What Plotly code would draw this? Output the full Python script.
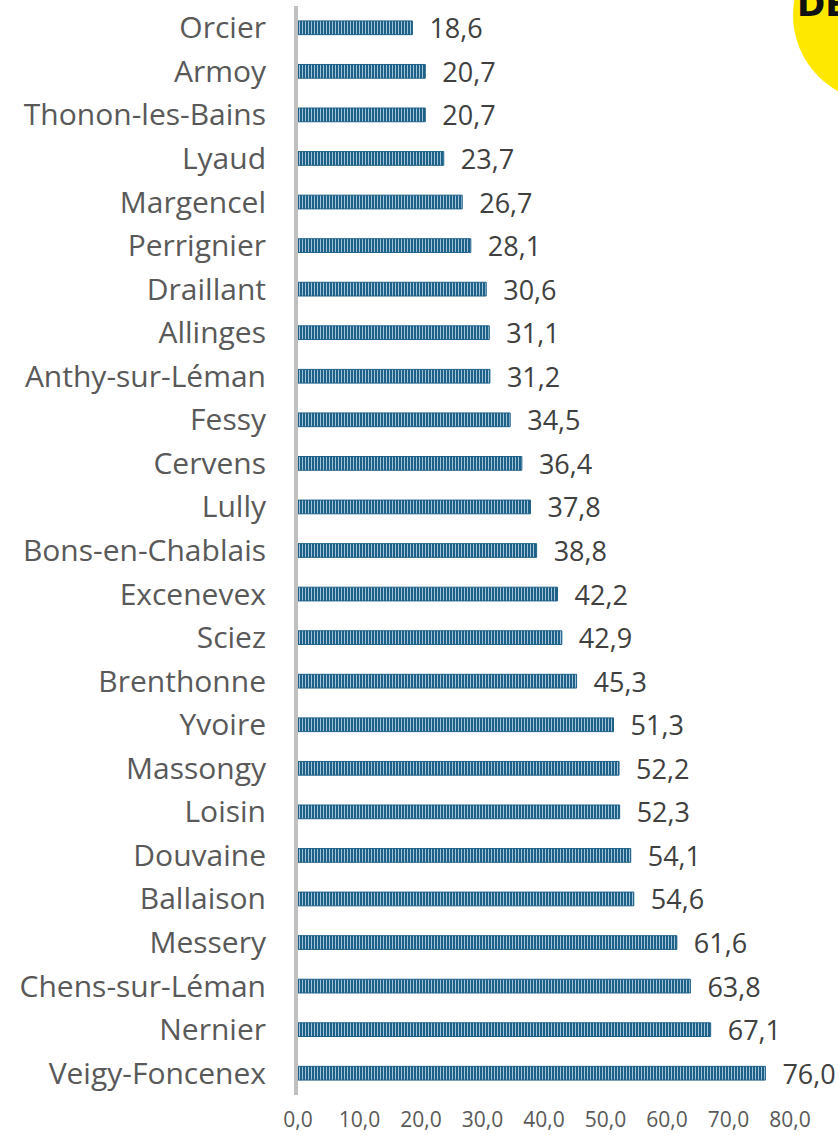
import plotly.graph_objects as go

communes = ["Orcier", "Armoy", "Thonon-les-Bains", "Lyaud", "Margencel", "Perrignier",
            "Draillant", "Allinges", "Anthy-sur-Léman", "Fessy", "Cervens", "Lully",
            "Bons-en-Chablais", "Excenevex", "Sciez", "Brenthonne", "Yvoire", "Massongy",
            "Loisin", "Douvaine", "Ballaison", "Messery", "Chens-sur-Léman", "Nernier",
            "Veigy-Foncenex"]
values = [18.6, 20.7, 20.7, 23.7, 26.7, 28.1, 30.6, 31.1, 31.2, 34.5, 36.4, 37.8,
          38.8, 42.2, 42.9, 45.3, 51.3, 52.2, 52.3, 54.1, 54.6, 61.6, 63.8, 67.1, 76.0]
tick_values = [0, 10, 20, 30, 40, 50, 60, 70, 80]
tick_labels = ["0,0", "10,0", "20,0", "30,0", "40,0", "50,0", "60,0", "70,0", "80,0"]

labels = ["\u00a0\u00a0" + f"{v:.1f}".replace(".", ",") for v in values]

FONT = "Open Sans"

fig = go.Figure()
fig.add_trace(go.Bar(
    x=values, y=communes, orientation="h",
    text=labels, textposition="outside", cliponaxis=False,
    constraintext="none",
    textfont=dict(family=FONT, size=27, color="#404040"),
    marker=dict(
        color="#1d6088",
        line=dict(color="#1d6088", width=1),
        pattern=dict(shape="|", bgcolor="#1d6088", fgcolor="#a3c4d9",
                     size=3, solidity=0.35, fillmode="replace"),
    ),
    hoverinfo="skip",
))

W, H = 838, 1135
L, R, T, B = 298, 0, 6, 40
pw = W - L - R
ph = H - T - B

def px_to_paper(x, y):
    return (x - L) / pw, (H - B - y) / ph

cx0, cy0 = px_to_paper(793, 102)
cx1, cy1 = px_to_paper(967, -72)

fig.update_layout(
    width=W, height=H,
    margin=dict(l=L, r=R, t=T, b=B, pad=0, autoexpand=False),
    plot_bgcolor="white", paper_bgcolor="white",
    bargap=0.685,
    showlegend=False,
    xaxis=dict(range=[0, pw / 6.15], tickvals=tick_values, ticktext=tick_labels,
               showgrid=False, zeroline=False, showline=False, automargin=False,
               tickfont=dict(family=FONT, size=21, color="#595959"),
               ticks="outside", ticklen=6, tickcolor="rgba(0,0,0,0)"),
    yaxis=dict(autorange="reversed", showgrid=False, zeroline=False, automargin=False,
               showline=True, linecolor="#c0c0c0", linewidth=4,
               ticks="", ticklabelstandoff=22,
               tickfont=dict(family=FONT, size=30, color="#595959")),
    shapes=[dict(type="circle", xref="paper", yref="paper",
                 x0=cx0, x1=cx1, y0=cy0, y1=cy1,
                 fillcolor="#ffe800", line=dict(width=0), layer="below")],
    annotations=[dict(text="<b>DE</b>", xref="paper", yref="paper",
                      x=px_to_paper(795, 0)[0], y=px_to_paper(0, 4)[1],
                      xanchor="left", yanchor="middle", showarrow=False,
                      font=dict(family="DejaVu Sans", size=34, color="#111111"))],
)

fig.write_html("out.html", config={"displayModeBar": False},
               post_script="document.body.style.margin='0';document.body.style.overflow='hidden';")
